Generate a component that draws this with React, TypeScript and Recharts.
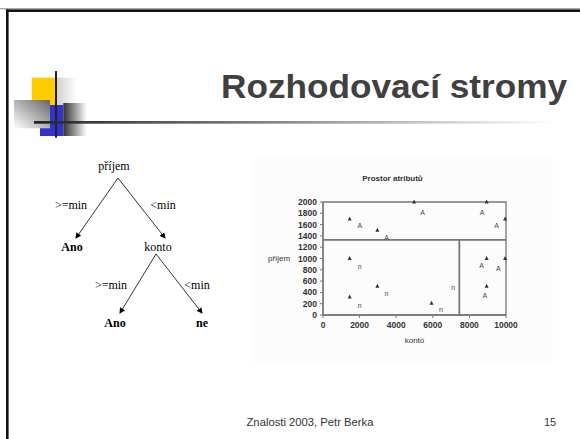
import React from 'react';
import { ScatterChart, Scatter, XAxis, YAxis, ReferenceArea, ReferenceLine } from 'recharts';

const xTicks = [0, 2000, 4000, 6000, 8000, 10000];
const yTicks = [0, 200, 400, 600, 800, 1000, 1200, 1400, 1600, 1800, 2000];
const splitPrijem = 1330;
const splitKonto = 7450;

const bodyZnacky = [
  { konto: 1460, prijem: 1700 },
  { konto: 2970, prijem: 1500 },
  { konto: 4980, prijem: 2000 },
  { konto: 8940, prijem: 2000 },
  { konto: 9950, prijem: 1700 },
  { konto: 1460, prijem: 1000 },
  { konto: 2970, prijem: 510 },
  { konto: 1460, prijem: 320 },
  { konto: 5930, prijem: 210 },
  { konto: 8940, prijem: 1000 },
  { konto: 9950, prijem: 1000 },
  { konto: 8940, prijem: 510 },
];

const bodyAno = [
  { konto: 2010, prijem: 1580 },
  { konto: 3470, prijem: 1370 },
  { konto: 5440, prijem: 1820 },
  { konto: 8700, prijem: 1820 },
  { konto: 9490, prijem: 1580 },
  { konto: 8670, prijem: 880 },
  { konto: 9580, prijem: 820 },
  { konto: 8850, prijem: 340 },
];

const bodyNe = [
  { konto: 2010, prijem: 850 },
  { konto: 3470, prijem: 380 },
  { konto: 2010, prijem: 170 },
  { konto: 6440, prijem: 100 },
  { konto: 7120, prijem: 480 },
];

const TriangleMark = (props: any) => {
  const { cx, cy } = props;
  return <path d={`M${cx},${cy - 2.5}L${cx + 2},${cy + 1.5}L${cx - 2},${cy + 1.5}Z`} fill="#333" />;
};

const LetterMark = (letter: string) => (props: any) => {
  const { cx, cy } = props;
  return (
    <text x={cx} y={cy + 2.5} textAnchor="middle" fontSize={7} fontFamily="Liberation Sans, Arial" fill="#444">
      {letter}
    </text>
  );
};

const tickStyle = { fontSize: 8.5, fontWeight: 'bold', fill: '#333', fontFamily: 'Liberation Sans, Arial' };

const Tree = () => (
  <g fontFamily="Liberation Serif, Times New Roman, serif" fontSize={12} fill="#000">
    <defs>
      <marker id="arr" markerWidth="6" markerHeight="6" refX="5" refY="3" orient="auto" markerUnits="userSpaceOnUse">
        <path d="M0,0L6,3L0,6Z" fill="#000" />
      </marker>
    </defs>
    <text x={114} y={170} textAnchor="middle">příjem</text>
    <line x1={118} y1={178} x2={76} y2={238} stroke="#000" strokeWidth={0.8} markerEnd="url(#arr)" />
    <line x1={118} y1={178} x2={165} y2={238} stroke="#000" strokeWidth={0.8} markerEnd="url(#arr)" />
    <text x={71} y={209} textAnchor="middle">&gt;=min</text>
    <text x={163} y={209} textAnchor="middle">&lt;min</text>
    <text x={72} y={251} textAnchor="middle" fontWeight="bold">Ano</text>
    <text x={158} y={251} textAnchor="middle">konto</text>
    <line x1={156} y1={254} x2={120} y2={313} stroke="#000" strokeWidth={0.8} markerEnd="url(#arr)" />
    <line x1={156} y1={254} x2={202} y2={313} stroke="#000" strokeWidth={0.8} markerEnd="url(#arr)" />
    <text x={111} y={289} textAnchor="middle">&gt;=min</text>
    <text x={197} y={289} textAnchor="middle">&lt;min</text>
    <text x={115} y={327} textAnchor="middle" fontWeight="bold">Ano</text>
    <text x={202} y={327} textAnchor="middle" fontWeight="bold">ne</text>
  </g>
);

export default function App() {
  return (
    <div style={{ position: 'absolute', left: 0, top: 0, width: 580, height: 439, background: '#fff', overflow: 'hidden' }}>
      <svg width={580} height={439} style={{ position: 'absolute', left: 0, top: 0 }}>
        <defs>
          <linearGradient id="hline" x1="34" y1="0" x2="555" y2="0" gradientUnits="userSpaceOnUse">
            <stop offset="0" stopColor="#222" />
            <stop offset="1" stopColor="#fff" />
          </linearGradient>
          <linearGradient id="shLight" x1="0" y1="0" x2="1" y2="0">
            <stop offset="0" stopColor="#d0d0d0" />
            <stop offset="1" stopColor="#fff" />
          </linearGradient>
          <linearGradient id="shDark" x1="0" y1="0" x2="1" y2="0">
            <stop offset="0" stopColor="#333" />
            <stop offset="1" stopColor="#fff" />
          </linearGradient>
          <linearGradient id="shDiag" x1="1" y1="0" x2="0" y2="1">
            <stop offset="0" stopColor="#666" />
            <stop offset="1" stopColor="#fff" />
          </linearGradient>
        </defs>
        {/* slide frame */}
        <rect x={0} y={8} width={580} height={1.4} fill="#aaa" />
        <rect x={6} y={9.4} width={574} height={2.6} fill="#111" />
        <rect x={6} y={9.4} width={2.6} height={430} fill="#111" />
        {/* logo */}
        <rect x={31.7} y={77.7} width={23.3} height={27.3} fill="#FFCC00" />
        <rect x={56.7} y={77.7} width={20} height={27.3} fill="url(#shLight)" />
        <rect x={40} y={105} width={23.3} height={31} fill="#3333CC" />
        <rect x={63.3} y={103} width={23.4} height={33} fill="url(#shDark)" />
        <rect x={14} y={100} width={36} height={28.3} fill="url(#shDiag)" />
        <rect x={55} y={71} width={2} height={66.7} fill="#222" />
        <rect x={34} y={121} width={530} height={2.7} fill="url(#hline)" />
        {/* title */}
        <text x={221} y={97.5} fontFamily="Liberation Sans, Arial" fontWeight="bold" fontSize={34} fill="#404040"
          textLength={346} lengthAdjust="spacingAndGlyphs">Rozhodovací stromy</text>
        {/* tree */}
        <Tree />
        {/* scatter panel background */}
        <rect x={253} y={158} width={300} height={205} fill="#fcfcfc" />
        <text x={392.5} y={181} textAnchor="middle" fontFamily="Liberation Sans, Arial" fontWeight="bold" fontSize={8} fill="#333">Prostor atributů</text>
        {/* footer */}
        <text x={310} y={426} textAnchor="middle" fontFamily="Liberation Sans, Arial" fontSize={11} fill="#333"
          textLength={127} lengthAdjust="spacingAndGlyphs">Znalosti 2003, Petr Berka</text>
        <text x={550} y={426} textAnchor="middle" fontFamily="Liberation Sans, Arial" fontSize={11} fill="#333">15</text>
      </svg>
      <div style={{ position: 'absolute', left: 255, top: 160 }}>
        <ScatterChart width={275} height={200} margin={{ top: 42, right: 24, bottom: 0, left: 0 }}>
          <XAxis type="number" dataKey="konto" domain={[0, 10000]} ticks={xTicks} interval={0} height={45}
            tickSize={3} tickMargin={4} tick={tickStyle} axisLine={{ stroke: '#777', strokeWidth: 1.3 }}
            tickLine={{ stroke: '#777' }}
            label={{ value: 'konto', position: 'insideBottom', offset: 17, fontSize: 8, fill: '#333', fontFamily: 'Liberation Sans, Arial' }} />
          <YAxis type="number" dataKey="prijem" domain={[0, 2000]} ticks={yTicks} interval={0} width={68}
            tickSize={3} tickMargin={3} tick={tickStyle} axisLine={{ stroke: '#777', strokeWidth: 1.3 }}
            tickLine={{ stroke: '#777' }}
            label={{ value: 'příjem', position: 'insideLeft', offset: 13, fontSize: 8, fill: '#333', fontFamily: 'Liberation Sans, Arial' }} />
          <ReferenceArea x1={0} x2={10000} y1={0} y2={2000} fill="none" fillOpacity={0} stroke="#777" strokeWidth={1.3} />
          <ReferenceLine y={splitPrijem} stroke="#777" strokeWidth={1.8} />
          <ReferenceLine segment={[{ x: splitKonto, y: 0 }, { x: splitKonto, y: splitPrijem }]} stroke="#777" strokeWidth={1.8} />
          <Scatter data={bodyZnacky} shape={TriangleMark} isAnimationActive={false} />
          <Scatter data={bodyAno} shape={LetterMark('A')} isAnimationActive={false} />
          <Scatter data={bodyNe} shape={LetterMark('n')} isAnimationActive={false} />
        </ScatterChart>
      </div>
    </div>
  );
}
